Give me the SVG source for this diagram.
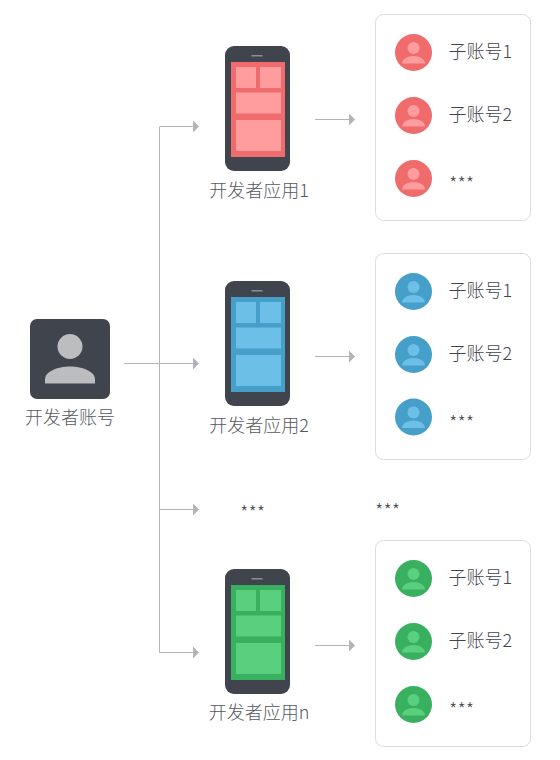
<svg xmlns="http://www.w3.org/2000/svg" width="560" height="760" viewBox="0 0 560 760">
<style>
text{font-family:"Noto Sans CJK SC","Noto Sans",sans-serif;font-weight:300}
.lbl{font-size:18px;fill:#55595f;text-anchor:middle}
.sub{font-size:18px;fill:#3f444d}
.star{font-size:19px;fill:#4a4f57}
.card{fill:#fff;stroke:#dcdcdc;stroke-width:1}
.body{fill:#3f444d}
.line{fill:none;stroke:#b1b4b9;stroke-width:1}
.head{fill:#b1b4b9}
.s{fill:var(--s)}
.b{fill:var(--b)}
.r{--s:#f06b6c;--b:#ff9c9d}
.u{--s:#459fc8;--b:#6cc0e8}
.g{--s:#39b05f;--b:#5ad07f}
</style>
<defs>
<g id="phone">
<rect class="body" x="225" y="46" width="65" height="125" rx="9"/>
<rect x="251.500" y="55" width="11" height="1.500" fill="#8b8f95"/>
<rect class="s" x="231" y="62" width="54" height="95"/>
<rect class="b" x="236" y="67" width="20" height="21"/>
<rect class="b" x="260" y="67" width="21" height="21"/>
<rect class="b" x="236" y="92.500" width="45" height="21"/>
<rect class="b" x="236" y="120" width="45" height="31"/>
</g>
<g id="avatar">
<circle class="s" cx="0" cy="0" r="18.500"/>
<circle class="b" cx="0" cy="-4.500" r="6"/>
<path class="b" d="M-11.500 11C-11.500 6.500-6 3.500 0 3.500S11.500 6.500 11.500 11Z"/>
</g>
</defs>
<g id="connectors">
<path class="line" d="M159.500 127V652.500H194M159.500 126.500H194M124 363.500H194M159.500 509.500H194M315 119.500H350M315 356.500H350M315 645.500H350"/>
<path class="head" d="M193 120.500L199 126.500L193 132.500ZM193 357.500L199 363.500L193 369.500ZM193 503.500L199 509.500L193 515.500ZM193 646.500L199 652.500L193 658.500ZM349 113.500L355 119.500L349 125.500ZM349 350.500L355 356.500L349 362.500ZM349 639.500L355 645.500L349 651.500Z"/>
</g>
<g id="developer">
<rect class="body" x="30" y="319" width="80" height="80" rx="7"/>
<circle cx="70" cy="346.500" r="12.500" fill="#bcbdbf"/>
<path d="M45 383.500V379C45 372 57 366.500 70 366.500S95 372 95 379V383.500Z" fill="#bcbdbf"/>
<text class="lbl" x="70" y="424">开发者账号</text>
</g>
<g id="app1" class="r"><use href="#phone"/><text class="lbl" x="259" y="197">开发者应用1</text></g>
<g id="app2" class="u"><use href="#phone" y="235"/><text class="lbl" x="259" y="432">开发者应用2</text></g>
<g id="app3" class="g"><use href="#phone" y="523"/><text class="lbl" x="259" y="719">开发者应用n</text></g>
<g id="more"><text class="star" x="240" y="520">***</text><text class="star" x="375" y="518">***</text></g>
<g id="accounts1" class="r">
<rect class="card" x="375.500" y="14.500" width="155" height="206" rx="8"/>
<use href="#avatar" x="413.500" y="52.500"/><use href="#avatar" x="413.500" y="115.500"/><use href="#avatar" x="413.500" y="178.500"/>
<text class="sub" x="448.500" y="58">子账号1</text><text class="sub" x="448.500" y="121">子账号2</text><text class="star" x="449" y="191">***</text>
</g>
<g id="accounts2" class="u">
<rect class="card" x="375.500" y="253.500" width="155" height="206" rx="8"/>
<use href="#avatar" x="413.500" y="291.500"/><use href="#avatar" x="413.500" y="354.500"/><use href="#avatar" x="413.500" y="417"/>
<text class="sub" x="448.500" y="297">子账号1</text><text class="sub" x="448.500" y="360">子账号2</text><text class="star" x="449" y="430">***</text>
</g>
<g id="accounts3" class="g">
<rect class="card" x="375.500" y="540.500" width="155" height="206" rx="8"/>
<use href="#avatar" x="413.500" y="578.500"/><use href="#avatar" x="413.500" y="641.500"/><use href="#avatar" x="413.500" y="704.500"/>
<text class="sub" x="448.500" y="584">子账号1</text><text class="sub" x="448.500" y="647">子账号2</text><text class="star" x="449" y="717">***</text>
</g>
</svg>
